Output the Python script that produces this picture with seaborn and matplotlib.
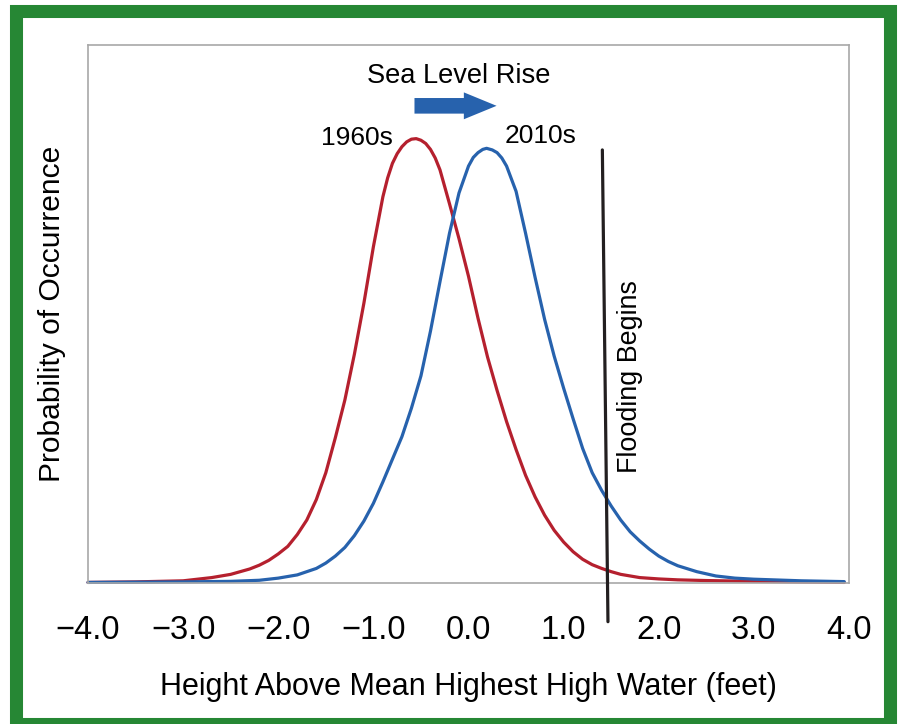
import numpy as np
import matplotlib
matplotlib.use("Agg")
import matplotlib.pyplot as plt
import seaborn as sns
from matplotlib.patches import Rectangle, FancyArrow

# Curvas (altura en pies, probabilidad relativa)
x_1960 = [-4.00, -3.50, -3.00, -2.70, -2.50, -2.30, -2.20, -2.10, -2.00, -1.90, -1.80,
          -1.70, -1.60, -1.50, -1.40, -1.30, -1.20, -1.10, -1.00, -0.90, -0.85, -0.80,
          -0.75, -0.70, -0.65, -0.60, -0.55, -0.50, -0.45, -0.40, -0.35, -0.30, -0.20,
          -0.10, 0.00, 0.10, 0.20, 0.30, 0.40, 0.50, 0.60, 0.70, 0.80, 0.90, 1.00, 1.10,
          1.20, 1.30, 1.40, 1.50, 1.60, 1.70, 1.80, 2.00, 2.20, 2.50, 3.00, 3.50, 3.95]
y_1960 = [0.001, 0.002, 0.004, 0.010, 0.016, 0.026, 0.033, 0.042, 0.054, 0.068, 0.090,
          0.117, 0.155, 0.205, 0.270, 0.340, 0.425, 0.520, 0.625, 0.718, 0.753, 0.780,
          0.798, 0.811, 0.820, 0.825, 0.826, 0.823, 0.817, 0.806, 0.790, 0.768, 0.705,
          0.640, 0.570, 0.492, 0.420, 0.358, 0.300, 0.248, 0.200, 0.160, 0.126, 0.098,
          0.076, 0.058, 0.044, 0.034, 0.027, 0.021, 0.016, 0.013, 0.010, 0.0075, 0.0058,
          0.0045, 0.003, 0.0018, 0.001]

x_2010 = [-4.00, -3.00, -2.50, -2.20, -2.00, -1.80, -1.60, -1.50, -1.40, -1.30, -1.20,
          -1.10, -1.00, -0.90, -0.80, -0.70, -0.60, -0.50, -0.40, -0.30, -0.20, -0.10,
          0.00, 0.05, 0.10, 0.15, 0.19, 0.25, 0.30, 0.35, 0.40, 0.50, 0.60, 0.70, 0.80,
          0.90, 1.00, 1.10, 1.20, 1.30, 1.40, 1.50, 1.60, 1.70, 1.80, 1.90, 2.00, 2.10,
          2.20, 2.40, 2.60, 2.80, 3.00, 3.50, 3.95]
y_2010 = [0.001, 0.002, 0.003, 0.005, 0.009, 0.015, 0.027, 0.037, 0.050, 0.066, 0.088,
          0.115, 0.148, 0.188, 0.230, 0.272, 0.325, 0.385, 0.468, 0.560, 0.650, 0.725,
          0.775, 0.791, 0.800, 0.806, 0.808, 0.805, 0.800, 0.790, 0.775, 0.728, 0.650,
          0.568, 0.490, 0.422, 0.362, 0.305, 0.250, 0.205, 0.172, 0.143, 0.117, 0.095,
          0.078, 0.063, 0.050, 0.040, 0.032, 0.021, 0.013, 0.009, 0.007, 0.004, 0.0025]

# Línea de inundación
flood_x = [1.407, 1.466]
flood_y = [0.805, -0.072]

ticks_x = [-4, -3, -2, -1, 0, 1, 2, 3, 4]
tick_labels = ["\u22124.0", "\u22123.0", "\u22122.0", "\u22121.0", "0.0", "1.0", "2.0", "3.0", "4.0"]

rojo = "#b5202e"
azul = "#2762ad"
gris = "#a8a8a8"
verde = "#268734"

sns.set_theme(style="white")
plt.rcParams["font.family"] = ["Liberation Sans", "DejaVu Sans"]
plt.rcParams["text.color"] = "black"
plt.rcParams["axes.labelcolor"] = "black"
plt.rcParams["xtick.labelcolor"] = "black"

fig = plt.figure(figsize=(8.99, 7.24), dpi=100)
ax = fig.add_axes([0.0979, 0.1948, 0.8465, 0.743])

sns.lineplot(x=x_1960, y=y_1960, ax=ax, color=rojo, linewidth=2.3, clip_on=False)
sns.lineplot(x=x_2010, y=y_2010, ax=ax, color=azul, linewidth=2.3, clip_on=False)
ax.plot(flood_x, flood_y, color="#231f20", linewidth=2.3, clip_on=False, zorder=5)

ax.set_xlim(-4, 4)
ax.set_ylim(0, 1)
ax.set_xticks(ticks_x)
ax.set_xticklabels(tick_labels, fontsize=23.5)
ax.set_yticks([])
ax.tick_params(axis="x", direction="out", length=12, width=1.1, color=gris, pad=11)
for s in ax.spines.values():
    s.set_color(gris)
    s.set_linewidth(1.2)

ax.set_xlabel("Height Above Mean Highest High Water (feet)", fontsize=22, labelpad=19)
ax.set_ylabel("Probability of Occurrence", fontsize=21.6, labelpad=16)

# Textos
ax.text(-1.17, 0.814, "1960s", fontsize=19, ha="center", va="baseline")
ax.text(0.755, 0.818, "2010s", fontsize=19, ha="center", va="baseline")
ax.text(-0.105, 0.929, "Sea Level Rise", fontsize=19.6, ha="center", va="baseline")
ax.text(1.70, 0.383, "Flooding Begins", fontsize=19.4, rotation=90, ha="center", va="center")

ax.add_patch(FancyArrow(-0.568, 0.887, 0.863, 0, width=0.029, head_width=0.050,
                        head_length=0.344, length_includes_head=True,
                        color=azul, linewidth=0))

# Marco verde
fig.patches.append(Rectangle((0.0178, 0.0), 0.99 - 0.0178, 0.9848, transform=fig.transFigure,
                             fill=False, edgecolor=verde, linewidth=9.4, joinstyle="miter"))

fig.savefig("out.png", dpi=100)
